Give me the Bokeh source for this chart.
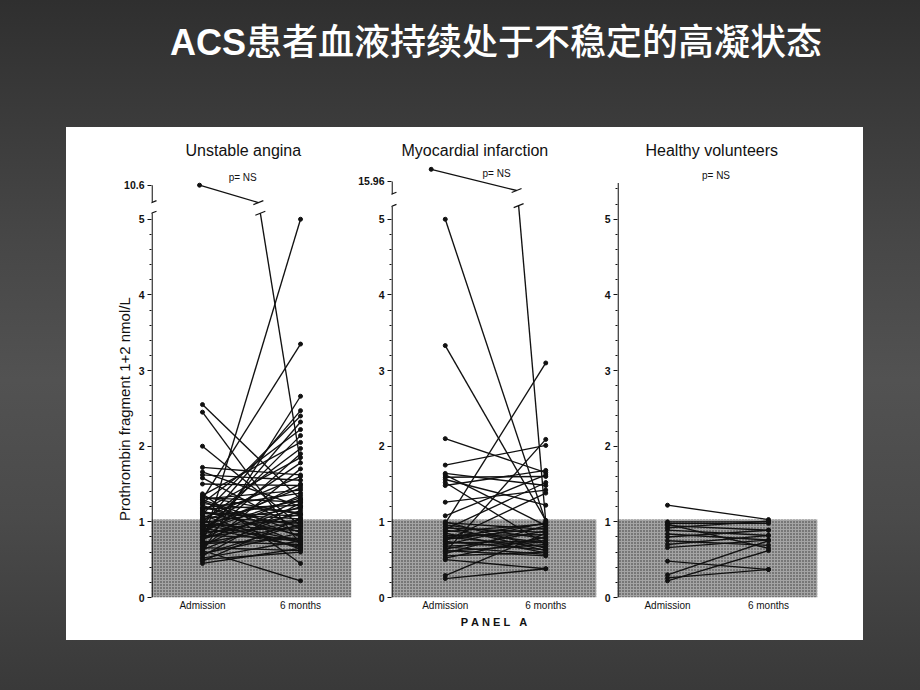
from bokeh.plotting import figure
from bokeh.models import Range1d, FixedTicker, Label, Arrow, Div, Spacer
from bokeh.layouts import row, column
from bokeh.embed import file_html
from bokeh.resources import INLINE

# ---------------- data ----------------
SLIDE_TITLE_LATIN = "ACS"
SLIDE_TITLE_CJK = "患者血液持续处于不稳定的高凝状态"
PANEL_TITLES = ["Unstable angina", "Myocardial infarction", "Healthy volunteers"]
TIMEPOINTS = ["Admission", "6 months"]
Y_TICKS = [0, 1, 2, 3, 4, 5]
Y_LABEL = "Prothrombin fragment 1+2 nmol/L"
P_TEXT = "p= NS"
PANEL_LABEL = "P\u00a0A\u00a0N\u00a0E\u00a0L\u00a0\u00a0\u00a0A"
NORMAL_UPPER = 1.03

# Unstable angina: admission / 6 months (nmol/L)
UA_ADM = [0.70, 1.30, 0.60, 0.95, 1.10, 0.80, 1.25, 0.85, 1.35, 1.00, 0.75, 1.15, 0.90,
          2.55, 2.45, 2.00, 1.72, 1.66, 1.62, 1.58, 1.50, 1.37, 1.33, 1.30, 1.27, 0.62, 0.45, 0.48, 0.52, 0.55,
          0.58, 0.63, 0.66, 0.68, 0.72, 0.74, 0.77, 0.79, 0.82, 0.84, 0.87, 0.89, 0.92, 0.94, 0.97, 0.99,
          1.02, 1.04, 1.07, 1.09, 1.12, 1.14, 1.17, 1.19, 1.22, 1.24, 1.29, 1.32, 0.50, 0.57, 0.86, 1.05,
          0.65, 0.93, 1.18, 0.78, 1.01, 0.71, 1.11, 0.96]
UA_6M = [5.00, 3.35, 2.66, 2.47, 2.40, 2.32, 2.22, 2.14, 2.05, 1.97, 1.90, 1.85, 1.78,
         1.30, 0.70, 0.95, 1.62, 1.20, 1.55, 0.90, 1.48, 0.45, 1.10, 1.42, 0.80, 0.22, 0.65, 1.05, 0.75, 1.25,
         0.85, 1.15, 0.62, 1.30, 0.95, 0.70, 1.20, 1.00, 0.78, 1.10, 0.92, 1.32, 0.68, 1.02, 0.88, 1.18,
         0.75, 1.28, 0.98, 0.64, 1.08, 0.82, 1.22, 0.94, 0.72, 1.12, 0.86, 1.26, 0.60, 0.97, 1.50, 1.60,
         1.70, 1.45, 1.38, 1.35, 0.66, 0.78, 1.04, 0.73]
UA_OUTLIER = [10.6, 1.78]

# Myocardial infarction
MI_ADM = [5.00, 3.33, 0.98, 2.10, 1.75, 0.60, 1.64, 1.59, 1.56, 1.48, 1.26, 1.08, 1.62, 1.52, 0.29, 0.25, 0.50, 0.90, 0.75,
          0.52, 0.55, 0.58, 0.61, 0.64, 0.67, 0.70, 0.72, 0.74, 0.77, 0.80, 0.82, 0.85, 0.87, 0.89, 0.92, 0.94, 0.96,
          0.99, 1.00, 0.62, 0.68, 0.79]
MI_6M = [1.00, 1.02, 3.10, 1.65, 2.01, 2.09, 1.48, 1.60, 1.22, 1.68, 1.42, 1.62, 0.95, 0.70, 0.85, 0.38, 0.38, 1.52, 1.38,
         0.80, 0.60, 0.95, 0.70, 0.88, 0.57, 0.99, 0.75, 0.63, 0.92, 0.67, 0.83, 0.59, 0.97, 0.72, 0.86, 0.62, 0.78,
         0.90, 0.65, 0.55, 0.73, 0.98]
MI_OUTLIER = [15.96, 1.00]

# Healthy volunteers
HV_ADM = [1.22, 1.00, 0.98, 0.95, 0.92, 0.89, 0.84, 0.80, 0.75, 0.70, 0.66, 0.48, 0.30, 0.26, 0.22, 0.97]
HV_6M = [1.03, 1.00, 0.98, 0.89, 1.01, 0.82, 0.76, 0.89, 0.69, 0.82, 0.76, 0.37, 0.75, 0.37, 0.62, 0.65]

# ---------------- style ----------------
INK = "#111111"
FONT = "Liberation Sans"
FRAME_H = 435
Y_TOP = 5.75
FIG_H = 513
# trailing padding so that the vertical axis title sits lower, as in the original
Y_LABEL_PAD = "\u00a0" * 14

PANELS = [
    dict(title=PANEL_TITLES[0], adm=UA_ADM, six=UA_6M, outlier=UA_OUTLIER,
         width=289, bl=85, br=4, x0=-0.520, x1=1.520, toff=34, p_xy=(0.41, 5.55),
         axis_segs=[(0, 5.08), (5.22, 5.45)], out_tick=5.45, out_xy=(-0.03, 5.45),
         brk_x=(0.57, 0.59), brk_y=(5.22, 5.08), ylabel=True, xlabel=False),
    dict(title=PANEL_TITLES[1], adm=MI_ADM, six=MI_6M, outlier=MI_OUTLIER,
         width=245, bl=34, br=4, x0=-0.535, x1=1.505, toff=10, p_xy=(0.51, 5.60),
         axis_segs=[(0, 5.17), (5.33, 5.50)], out_tick=5.50, out_xy=(-0.14, 5.66),
         brk_x=(0.71, 0.73), brk_y=(5.38, 5.18), ylabel=False, xlabel=True),
    dict(title=PANEL_TITLES[2], adm=HV_ADM, six=HV_6M, outlier=None,
         width=263, bl=17, br=46, x0=-0.495, x1=1.485, toff=28, p_xy=(0.48, 5.58),
         axis_segs=[(0, 5.48)], out_tick=None, out_xy=None,
         brk_x=None, brk_y=None, ylabel=False, xlabel=False),
]


def brk_mark(p, x, y, xpx, ypx):
    p.add_layout(Arrow(end=None, start=None, x_start=x - 5 * xpx, y_start=y - 2 * ypx,
                       x_end=x + 5 * xpx, y_end=y + 2 * ypx, line_color=INK, line_width=1.2))


def make_panel(cfg):
    fw = cfg["width"] - cfg["bl"] - cfg["br"]
    xpx = (cfg["x1"] - cfg["x0"]) / fw
    ypx = Y_TOP / FRAME_H
    p = figure(width=cfg["width"], height=FIG_H,
               x_range=Range1d(cfg["x0"], cfg["x1"]), y_range=Range1d(0, Y_TOP),
               min_border_left=cfg["bl"], min_border_right=cfg["br"],
               min_border_top=35, min_border_bottom=43,
               output_backend="svg", toolbar_location=None,
               background_fill_color="white", border_fill_color="white",
               outline_line_color=None, styles={"background": "white"})
    p.grid.visible = False

    p.title.text = cfg["title"]
    p.title.text_font = FONT
    p.title.text_font_size = "16px"
    p.title.text_font_style = "normal"
    p.title.text_color = INK
    p.title.align = "left"
    p.title.offset = cfg["toff"]
    p.title.standoff = 7

    # reference (normal) range shading
    p.quad(left=[cfg["x0"]], right=[cfg["x1"]], bottom=[0], top=[NORMAL_UPPER],
           fill_color="#a4a4a4", line_color=None,
           hatch_pattern="dot", hatch_scale=3, hatch_color="#333333", hatch_weight=1)

    adm, six = cfg["adm"], cfg["six"]
    n = len(adm)
    p.segment(x0=[0] * n, y0=adm, x1=[1] * n, y1=six, line_color=INK, line_width=1.35)
    p.scatter(x=[0] * n + [1] * n, y=adm + six, size=4, color=INK)

    # outlier with broken axis
    if cfg["outlier"] is not None:
        ox, oy = cfg["out_xy"]
        bx0, bx1 = cfg["brk_x"]
        by0, by1 = cfg["brk_y"]
        p.scatter(x=[ox], y=[oy], size=4, color=INK)
        p.segment(x0=[ox], y0=[oy], x1=[bx0], y1=[by0], line_color=INK, line_width=1.35)
        p.segment(x0=[bx1], y0=[by1], x1=[1], y1=[cfg["outlier"][1]], line_color=INK, line_width=1.35)
        brk_mark(p, bx0, by0, xpx, ypx)
        brk_mark(p, bx1, by1, xpx, ypx)

    # y spine (with break)
    sx = cfg["x0"] + 0.6 * xpx
    segs = cfg["axis_segs"]
    p.segment(x0=[sx] * len(segs), y0=[s[0] for s in segs], x1=[sx] * len(segs), y1=[s[1] for s in segs],
              line_color=INK, line_width=1.3)
    if len(segs) > 1:
        brk_mark(p, cfg["x0"], segs[0][1], xpx, ypx)
        brk_mark(p, cfg["x0"], segs[1][0], xpx, ypx)

    ticks = list(Y_TICKS)
    overrides = {t: str(t) for t in Y_TICKS}
    if cfg["out_tick"] is not None:
        ticks.append(cfg["out_tick"])
        overrides[cfg["out_tick"]] = f"{cfg['outlier'][0]:g}"
    top_minor = segs[0][1]
    minors = [round(k * 0.2, 2) for k in range(0, 30) if k % 5 and k * 0.2 <= top_minor]
    yax = p.yaxis[0]
    yax.ticker = FixedTicker(ticks=ticks, minor_ticks=minors)
    yax.major_label_overrides = overrides
    yax.axis_line_color = None
    yax.major_tick_line_color = INK
    yax.minor_tick_line_color = INK
    yax.major_tick_out = 4
    yax.major_tick_in = 0
    yax.minor_tick_out = 2
    yax.minor_tick_in = 0
    yax.major_label_standoff = 3
    yax.major_label_text_font = FONT
    yax.major_label_text_font_size = "10.5px"
    yax.major_label_text_font_style = "bold"
    yax.major_label_text_color = INK
    if cfg["ylabel"]:
        yax.axis_label = Y_LABEL + Y_LABEL_PAD
        yax.axis_label_text_font = FONT
        yax.axis_label_text_font_size = "15px"
        yax.axis_label_text_font_style = "normal"
        yax.axis_label_text_color = INK
        yax.axis_label_standoff = -12

    xax = p.xaxis[0]
    xax.ticker = FixedTicker(ticks=[0, 1], minor_ticks=[])
    xax.major_label_overrides = {0: TIMEPOINTS[0], 1: TIMEPOINTS[1]}
    xax.axis_line_color = None
    xax.major_tick_line_color = None
    xax.minor_tick_line_color = None
    xax.major_tick_out = 0
    xax.major_tick_in = 0
    xax.minor_tick_out = 0
    xax.major_label_standoff = 2
    xax.major_label_text_font = FONT
    xax.major_label_text_font_size = "10px"
    xax.major_label_text_color = INK
    if cfg["xlabel"]:
        xax.axis_label = PANEL_LABEL
        xax.axis_label_text_font = FONT
        xax.axis_label_text_font_size = "11px"
        xax.axis_label_text_font_style = "bold"
        xax.axis_label_text_color = INK
        xax.axis_label_standoff = 2

    px, py = cfg["p_xy"]
    p.add_layout(Label(x=px, y=py, text=P_TEXT, text_align="center", text_baseline="middle",
                       text_font=FONT, text_font_size="10px", text_color=INK))
    return p


figs = [make_panel(c) for c in PANELS]

title_html = (
    '<div style="padding-top:19px;padding-left:104px;color:white;font-size:36px;'
    'font-family:\'Noto Sans CJK SC\';font-weight:500;line-height:1.15;white-space:nowrap;">'
    f'<span style="font-family:\'Liberation Sans\';font-weight:bold;">{SLIDE_TITLE_LATIN}</span>'
    f'{SLIDE_TITLE_CJK}</div>'
)
title_div = Div(text=title_html, width=854, height=127, margin=0)

fig_row = row(*figs, width=797, height=FIG_H, styles={"background": "white"})

layout = column(
    row(Spacer(width=66, height=127, margin=0), title_div, width=920, height=127),
    row(Spacer(width=66, height=FIG_H, margin=0), fig_row, Spacer(width=57, height=FIG_H, margin=0),
        width=920, height=FIG_H),
    Spacer(width=920, height=50, margin=0),
    width=920, height=690,
    styles={"background": "linear-gradient(to bottom, #2f2f2f 0%, #474747 35%, #525252 55%, #4a4a4a 75%, #393939 100%)"},
)

open("out.html", "w").write(file_html(layout, INLINE))
